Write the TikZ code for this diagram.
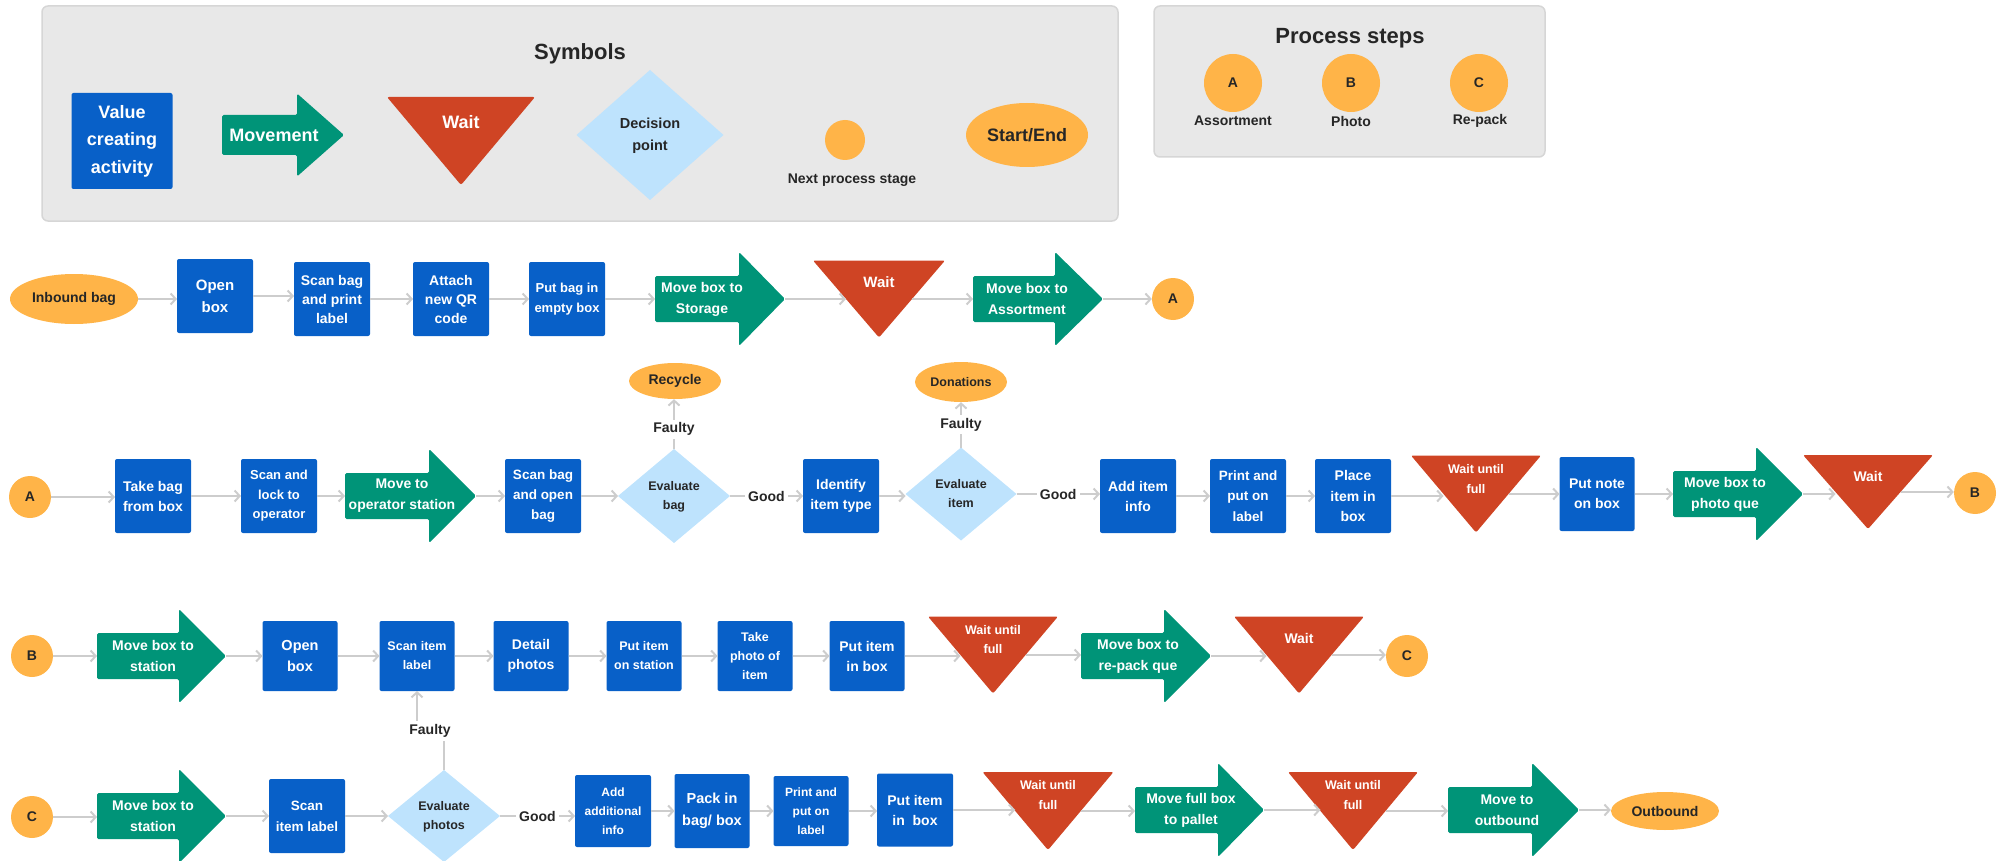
\documentclass[tikz,border=0pt]{standalone}
\usepackage{fontspec}
\setmainfont{Liberation Sans}
\usetikzlibrary{shapes.geometric,arrows.meta}
\definecolor{boxblue}{RGB}{8,96,200}
\definecolor{mvgreen}{RGB}{0,148,120}
\definecolor{waitred}{RGB}{207,68,36}
\definecolor{decblue}{RGB}{190,227,253}
\definecolor{orng}{RGB}{255,180,72}
\definecolor{panelgray}{RGB}{232,232,232}
\definecolor{panelline}{RGB}{214,214,214}
\definecolor{conncol}{RGB}{205,205,205}
\definecolor{darktext}{RGB}{38,38,38}
\newcommand\fsz[2]{\fontsize{#1}{#2}\selectfont}
\tikzset{
 vbox/.style={fill=boxblue, text=white, font=\bfseries\fsz{14}{20}, align=center, inner sep=0pt, outer sep=0pt, minimum width=76pt, minimum height=74pt, rounded corners=2pt},
 anc/.style={inner sep=0pt, outer sep=0pt},
 mvtext/.style={text=white, font=\bfseries\fsz{14}{21}, align=center, inner sep=0pt},
 wtext/.style={text=white, font=\bfseries\fsz{12.5}{20}, align=center, inner sep=0pt},
 dtext/.style={text=darktext, font=\bfseries\fsz{12.5}{19}, align=center, inner sep=0pt},
 lbl/.style={text=darktext, font=\bfseries\fsz{14}{17}, fill=white, inner sep=3pt},
 circ/.style={circle, fill=orng, text=darktext, font=\bfseries\fsz{14}{17}, inner sep=0pt, minimum size=42pt},
 oval/.style={ellipse, fill=orng, text=darktext, font=\bfseries\fsz{14}{17}, inner sep=0pt},
 dec/.style={diamond, fill=decblue, inner sep=0pt, outer sep=0pt},
 conn/.style={draw=conncol, line width=2pt, -{Straight Barb[length=5pt,width=11pt]}},
 panel/.style={fill=panelgray, draw=panelline, line width=1.5pt, rounded corners=6pt},
 ptitle/.style={text=darktext, font=\bfseries\fsz{22}{26}, inner sep=0pt},
}
% arrow shape: name, left x, centre y, length, body half height, head half height, head length
\newcommand\arrowshape[7]{%
 \fill[mvgreen, rounded corners=1.5pt] (#2,#3-#5) -- (#2+#4-#7,#3-#5) -- (#2+#4-#7,#3-#6) -- (#2+#4,#3) -- (#2+#4-#7,#3+#6) -- (#2+#4-#7,#3+#5) -- (#2,#3+#5) -- cycle;
 \node[anc, minimum width=#4pt, minimum height=2*#5pt] (#1) at (#2+#4/2,#3) {};
}
% wait triangle: name, centre x, centre y, half width, half height
\newcommand\waitshape[5]{%
 \fill[waitred, rounded corners=2pt] (#2-#4,#3-#5) -- (#2+#4,#3-#5) -- (#2,#3+#5) -- cycle;
 \node[anc, minimum width=#4pt, minimum height=4pt] (#1) at (#2,#3) {};
}
\newcommand\cn[2]{\draw[conn] (#1.east) -- (#1.east -| #2.west);}
\begin{document}
\begin{tikzpicture}[x=1pt,y=-1pt]
\useasboundingbox (0,0) rectangle (1999,861);

% ---------------- Symbols panel
\node[panel, minimum width=1076pt, minimum height=215pt] (sympanel) at (580,113.5) {};
\node[ptitle] (symtitle) at (580,54) {Symbols};
\node[vbox, minimum width=101pt, minimum height=96pt, font=\bfseries\fsz{18}{27.5}] (symval) at (122,141) {Value\\creating\\activity};
\arrowshape{symmov}{222}{135}{122}{20}{41.5}{47}
\node[mvtext, font=\bfseries\fsz{18}{22}] (symmovt) at (274,135) {Movement};
\waitshape{symwait}{461}{141}{74}{44}
\node[wtext, font=\bfseries\fsz{18}{22}] (symwaitt) at (461,122) {Wait};
\node[dec, minimum width=147pt, minimum height=130pt] (symdec) at (650,135) {};
\node[dtext, font=\bfseries\fsz{14.5}{22}] (symdect) at (650,136) {Decision\\point};
\node[circ, minimum size=40pt] (symnext) at (845,140) {};
\node[dtext, font=\bfseries\fsz{14}{17}] (symnextt) at (852,180) {Next process stage};
\node[oval, minimum width=122pt, minimum height=64pt, font=\bfseries\fsz{18}{22}] (symse) at (1027,135) {Start/End};

% ---------------- Process steps panel
\node[panel, minimum width=391pt, minimum height=151pt] (procpanel) at (1349.5,81.5) {};
\node[ptitle] (proctitle) at (1350,38) {Process steps};
\node[circ, minimum size=58pt] (pA) at (1233,83) {A};
\node[circ, minimum size=58pt] (pB) at (1351,83) {B};
\node[circ, minimum size=58pt] (pC) at (1479,83) {C};
\node[dtext, font=\bfseries\fsz{14}{17}] (pAl) at (1233,121) {Assortment};
\node[dtext, font=\bfseries\fsz{14}{17}] (pBl) at (1351,121) {Photo};
\node[dtext, font=\bfseries\fsz{14}{17}] (pCl) at (1480,121) {Re-pack};

% ---------------- Row 1
\node[oval, minimum width=128pt, minimum height=50pt] (ib) at (74,299) {Inbound bag};
\node[vbox, font=\bfseries\fsz{15}{22}] (ob) at (215,296) {Open\\box};
\node[vbox, font=\bfseries\fsz{14}{19}] (sb) at (332,299) {Scan bag\\and print\\label};
\node[vbox, font=\bfseries\fsz{14}{19}] (aq) at (451,299) {Attach\\new QR\\code};
\node[vbox, font=\bfseries\fsz{13}{20}] (pb) at (567,299) {Put bag in\\empty box};
\arrowshape{m1}{655}{299}{130}{23}{47}{46}
\node[mvtext] (m1t) at (702,299) {Move box to\\Storage};
\waitshape{w1}{879}{299}{66}{38.5}
\node[wtext, font=\bfseries\fsz{15}{18}] (w1t) at (879,282) {Wait};
\arrowshape{m2}{973}{299}{130}{23}{47}{48}
\node[mvtext] (m2t) at (1027,299) {Move box to\\Assortment};
\node[circ] (A1) at (1173,299) {A};

\cn{ib}{ob} \cn{ob}{sb} \cn{sb}{aq} \cn{aq}{pb} \cn{pb}{m1} \cn{m1}{w1} \cn{w1}{m2} \cn{m2}{A1}

% ---------------- Row 2
\node[circ] (A2) at (30,497) {A};
\node[vbox] (tb) at (153,496) {Take bag\\from box};
\node[vbox, font=\bfseries\fsz{13}{19.5}] (sl) at (279,496) {Scan and\\lock to\\operator};
\arrowshape{m3}{345}{496}{131}{23}{47}{47}
\node[mvtext] (m3t) at (402,496) {Move to\\operator station};
\node[vbox, font=\bfseries\fsz{13.5}{20}] (so) at (543,496) {Scan bag\\and open\\bag};
\node[dec, minimum width=112pt, minimum height=94pt] (eb) at (674,496) {};
\node[dtext] (ebt) at (674,497) {Evaluate\\bag};
\node[oval, minimum width=92pt, minimum height=36pt] (rec) at (675,381) {Recycle};
\node[vbox] (it) at (841,496) {Identify\\item type};
\node[dec, minimum width=111pt, minimum height=93pt] (ei) at (961,494) {};
\node[dtext] (eit) at (961,494) {Evaluate\\item};
\node[oval, minimum width=92pt, minimum height=40pt, font=\bfseries\fsz{12.5}{15}] (don) at (961,382) {Donations};
\node[vbox] (ai) at (1138,496) {Add item\\info};
\node[vbox, font=\bfseries\fsz{13.5}{20.5}] (pp) at (1248,496) {Print and\\put on\\label};
\node[vbox, font=\bfseries\fsz{14}{20.5}] (pi) at (1353,496) {Place\\item in\\box};
\waitshape{w2}{1476}{494}{65}{38.5}
\node[wtext] (w2t) at (1476,479) {Wait until\\full};
\node[vbox, minimum width=75pt] (pn) at (1597,494) {Put note\\on box};
\arrowshape{m4}{1673}{494}{130}{23}{47}{47}
\node[mvtext] (m4t) at (1725,494) {Move box to\\photo que};
\waitshape{w3}{1868}{492}{65}{37}
\node[wtext, font=\bfseries\fsz{14}{17}] (w3t) at (1868,476) {Wait};
\node[circ] (B2) at (1975,493) {B};

\cn{A2}{tb} \cn{tb}{sl} \cn{sl}{m3} \cn{m3}{so} \cn{so}{eb}
\draw[conn] (eb.east) -- node[lbl] (g1) {Good} (eb.east -| it.west);
\draw[conn] (eb.north) -- node[lbl, pos=0.4] (f1) {Faulty} (eb.north |- rec.south);
\cn{it}{ei}
\draw[conn] (ei.east) -- node[lbl] (g2) {Good} (ei.east -| ai.west);
\draw[conn] (ei.north) -- node[lbl] (f2) {Faulty} (ei.north |- don.south);
\cn{ai}{pp} \cn{pp}{pi} \cn{pi}{w2} \cn{w2}{pn} \cn{pn}{m4} \cn{m4}{w3} \cn{w3}{B2}

% ---------------- Row 3
\node[circ] (B3) at (32,656) {B};
\arrowshape{m5}{97}{656}{129}{23}{47}{47}
\node[mvtext] (m5t) at (153,656) {Move box to\\station};
\node[vbox, minimum width=75pt, minimum height=70pt, font=\bfseries\fsz{14.5}{21}] (ob3) at (300,656) {Open\\box};
\node[vbox, minimum width=75pt, minimum height=70pt, font=\bfseries\fsz{12.5}{19}] (si3) at (417,656) {Scan item\\label};
\node[vbox, minimum width=75pt, minimum height=70pt] (dp) at (531,656) {Detail\\photos};
\node[vbox, minimum width=75pt, minimum height=70pt, font=\bfseries\fsz{12.5}{19}] (ps) at (644,656) {Put item\\on station};
\node[vbox, minimum width=75pt, minimum height=70pt, font=\bfseries\fsz{12.5}{19}] (tp) at (755,656) {Take\\photo of\\item};
\node[vbox, minimum width=75pt, minimum height=70pt] (pib) at (867,656) {Put item\\in box};
\waitshape{w4}{993}{655}{65}{38.5}
\node[wtext, font=\bfseries\fsz{12.5}{19}] (w4t) at (993,640) {Wait until\\full};
\arrowshape{m6}{1081}{656}{130}{23}{47}{47}
\node[mvtext] (m6t) at (1138,656) {Move box to\\re-pack que};
\waitshape{w5}{1299}{655}{65}{38.5}
\node[wtext, font=\bfseries\fsz{14}{17}] (w5t) at (1299,638) {Wait};
\node[circ] (C3) at (1407,656) {C};

\cn{B3}{m5} \cn{m5}{ob3} \cn{ob3}{si3} \cn{si3}{dp} \cn{dp}{ps} \cn{ps}{tp} \cn{tp}{pib} \cn{pib}{w4} \cn{w4}{m6} \cn{m6}{w5} \cn{w5}{C3}

% ---------------- Row 4
\node[circ] (C4) at (32,817) {C};
\arrowshape{m7}{97}{816}{129}{23}{47}{47}
\node[mvtext] (m7t) at (153,816) {Move box to\\station};
\node[vbox, font=\bfseries\fsz{13.5}{21}] (si4) at (307,816) {Scan\\item label};
\node[dec, minimum width=112pt, minimum height=92pt] (ep) at (444,816) {};
\node[dtext] (ept) at (444,817) {Evaluate\\photos};
\node[vbox, minimum height=72pt, font=\bfseries\fsz{12}{19}] (aai) at (613,811) {Add\\additional\\info};
\node[vbox, minimum width=75pt, font=\bfseries\fsz{14.5}{22}] (pk) at (712,811) {Pack in\\bag/ box};
\node[vbox, minimum width=75pt, minimum height=70pt, font=\bfseries\fsz{12}{19}] (ppl) at (811,811) {Print and\\put on\\label};
\node[vbox, minimum height=73pt] (pib4) at (915,810) {Put item\\in\ \ box};
\waitshape{w6}{1048}{811}{65.5}{39}
\node[wtext] (w6t) at (1048,795) {Wait until\\full};
\arrowshape{m8}{1135}{810}{129}{23}{47}{46}
\node[mvtext] (m8t) at (1191,810) {Move full box\\to pallet};
\waitshape{w7}{1353}{811}{65}{39}
\node[wtext] (w7t) at (1353,795) {Wait until\\full};
\arrowshape{m9}{1448}{810}{131}{23}{47}{47}
\node[mvtext] (m9t) at (1507,810) {Move to\\outbound};
\node[oval, minimum width=108pt, minimum height=38pt] (out) at (1665,811) {Outbound};

\cn{C4}{m7} \cn{m7}{si4} \cn{si4}{ep}
\draw[conn] (ep.east) -- node[lbl] (g3) {Good} (ep.east -| aai.west);
\coordinate (fk) at (430,731);
\draw[conn] (ep.north) |- (fk) -| (si3.south);
\node[lbl] (f3) at (fk) {Faulty};
\cn{aai}{pk} \cn{pk}{ppl} \cn{ppl}{pib4} \cn{pib4}{w6} \cn{w6}{m8} \cn{m8}{w7} \cn{w7}{m9} \cn{m9}{out}
\end{tikzpicture}
\end{document}
